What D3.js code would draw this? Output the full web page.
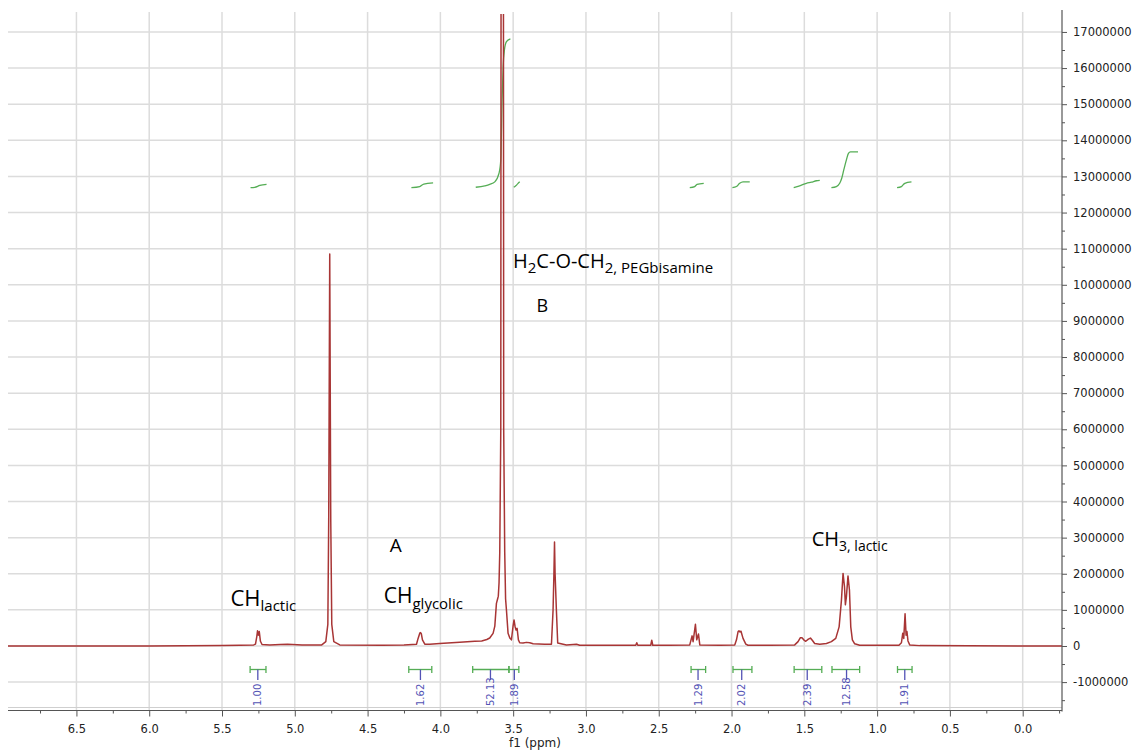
<!DOCTYPE html>
<html><head><meta charset="utf-8">
<script src="https://cdn.jsdelivr.net/npm/d3@7"></script>
<style>html,body{margin:0;padding:0;background:#fff;} svg{display:block;}</style>
</head><body>
<svg id="chart" width="1132" height="751"></svg>
<script>
// ---------- DATA ----------
// 1H NMR spectrum: [chemical shift (ppm), intensity (millions)]
const spectrum = [
[6.97,0.00],[6.00,0.00],[5.50,0.01],[5.378,0.02],[5.282,0.03],[5.270,0.05],[5.261,0.26],[5.256,0.42],[5.250,0.30],[5.244,0.40],[5.236,0.13],[5.225,0.04],[5.172,0.03],[5.10,0.04],[5.05,0.05],[4.95,0.03],
[4.815,0.03],[4.787,0.12],[4.773,0.6],[4.767,3.5],[4.760,10.85],[4.753,3.5],[4.746,0.6],[4.732,0.12],[4.691,0.03],[4.40,0.02],[4.25,0.03],
[4.164,0.05],[4.153,0.21],[4.141,0.36],[4.136,0.37],[4.131,0.34],[4.123,0.17],[4.107,0.05],[4.073,0.05],[4.004,0.07],[3.867,0.10],[3.764,0.13],[3.716,0.14],[3.681,0.18],[3.661,0.22],[3.638,0.35],[3.626,0.55],[3.615,1.18],[3.607,1.30],[3.602,1.38],[3.597,1.75],[3.592,2.6],[3.585,6],[3.580,40],[3.575,60],[3.570,40],[3.565,6],[3.558,2.6],[3.552,1.3],[3.546,0.99],[3.535,0.35],[3.523,0.22],[3.512,0.17],[3.501,0.54],[3.494,0.72],[3.487,0.54],[3.480,0.44],[3.473,0.49],[3.464,0.17],[3.455,0.09],[3.432,0.08],[3.409,0.10],[3.386,0.09],[3.363,0.06],[3.283,0.05],[3.237,0.05],
[3.226,0.99],[3.220,2.0],[3.216,2.88],[3.212,2.0],[3.203,0.99],[3.194,0.08],[3.134,0.03],[3.065,0.05],[3.043,0.02],[2.768,0.02],[2.658,0.02],[2.651,0.09],[2.644,0.02],[2.555,0.02],[2.548,0.16],[2.541,0.02],[2.425,0.02],
[2.287,0.03],[2.271,0.28],[2.264,0.12],[2.248,0.60],[2.239,0.17],[2.227,0.33],[2.218,0.03],[2.081,0.02],
[1.978,0.03],[1.966,0.17],[1.955,0.40],[1.949,0.42],[1.942,0.39],[1.935,0.41],[1.921,0.21],[1.902,0.05],[1.887,0.02],[1.738,0.02],
[1.566,0.03],[1.543,0.12],[1.527,0.23],[1.516,0.23],[1.504,0.17],[1.490,0.13],[1.472,0.19],[1.458,0.22],[1.444,0.15],[1.429,0.07],[1.394,0.05],[1.348,0.07],[1.314,0.12],[1.284,0.21],[1.261,0.53],[1.245,1.27],[1.234,2.01],[1.224,1.64],[1.218,1.14],[1.211,1.36],[1.200,1.94],[1.190,1.55],[1.181,0.53],[1.170,0.17],[1.154,0.06],[1.120,0.02],[1.051,0.02],
[0.850,0.02],[0.833,0.09],[0.824,0.35],[0.817,0.21],[0.808,0.89],[0.801,0.30],[0.795,0.40],[0.788,0.14],[0.776,0.03],[0.707,0.01],[0.00,0.00],[-0.27,0.00]
];

// Integral traces: [ppm, level (millions)]
const integralCurves = [
 [[5.304,12.69],[5.275,12.70],[5.240,12.75],[5.194,12.78]],
 [[4.199,12.69],[4.142,12.72],[4.114,12.79],[4.050,12.82]],
 [[3.757,12.70],[3.695,12.74],[3.661,12.78],[3.626,12.85],[3.597,13.09],[3.585,13.46],[3.576,15.12],[3.569,16.04],[3.560,16.50],[3.546,16.73],[3.519,16.81]],
 [[3.496,12.70],[3.482,12.74],[3.468,12.80],[3.455,12.85]],
 [[2.287,12.69],[2.253,12.72],[2.237,12.78],[2.191,12.81]],
 [[1.994,12.69],[1.966,12.72],[1.944,12.81],[1.921,12.85],[1.875,12.85]],
 [[1.573,12.69],[1.532,12.74],[1.486,12.81],[1.451,12.84],[1.417,12.88],[1.394,12.89]],
 [[1.314,12.69],[1.280,12.72],[1.257,12.81],[1.243,12.95],[1.229,13.18],[1.211,13.46],[1.197,13.64],[1.183,13.68],[1.131,13.68]],
 [[0.863,12.69],[0.833,12.72],[0.810,12.81],[0.764,12.85]]
];

// Integration regions
const integralFrom  = [5.307, 4.217, 3.778, 3.529, 2.278, 1.990, 1.570, 1.310, 0.860];
const integralTo    = [5.198, 4.059, 3.529, 3.461, 2.178, 1.860, 1.380, 1.120, 0.760];
const integralMark  = [5.254, 4.137, 3.656, 3.492, 2.230, 1.930, 1.480, 1.210, 0.810];
const integralValues = ["1.00","1.62","52.13","1.89","1.29","2.02","2.39","12.58","1.91"];

// Axis ticks
const xTicks = [6.5, 6.0, 5.5, 5.0, 4.5, 4.0, 3.5, 3.0, 2.5, 2.0, 1.5, 1.0, 0.5, 0.0];
const xMinorTicks = [6.75, 6.25, 5.75, 5.25, 4.75, 4.25, 3.75, 3.25, 2.75, 2.25, 1.75, 1.25, 0.75, 0.25, -0.25];
const yTicks = [-1000000,0,1000000,2000000,3000000,4000000,5000000,6000000,7000000,8000000,9000000,10000000,11000000,12000000,13000000,14000000,15000000,16000000,17000000];
const yMinorTicks = [-1500000,-500000,500000,1500000,2500000,3500000,4500000,5500000,6500000,7500000,8500000,9500000,10500000,11500000,12500000,13500000,14500000,15500000,16500000];
const xAxisTitle = "f1 (ppm)";

// Peak annotations: anchor in data units [ppm, intensity (millions)], text parts [text, isSubscript]
const annotationAnchors = [[5.442,1.116],[4.389,1.182],[4.348,2.60],[3.501,10.457],[3.340,9.255],[1.449,2.77]];
const annotationParts = [
 [["CH",0],["lactic",1]],
 [["CH",0],["glycolic",1]],
 [["A",0]],
 [["H",0],["2",1],["C-O-CH",0],["2, PEGbisamine",1]],
 [["B",0]],
 [["CH",0],["3, lactic",1]]
];

// ---------- STYLE / LAYOUT ----------
const W = 1132, H = 751;
const plot = {left: 8, right: 1062, top: 14, bottom: 710.5};
const annFont = [22, 21, 19, 20, 18, 20];
const annSubFont = [15, 15, 15, 15, 15, 14];
const annSubShift = [5, 6, 5, 5, 5, 5];
const specColor = "#a83535", intColor = "#55ad55", blueColor = "#5353b5";
const gridColor = "#dcdcdc", axisColor = "#555";
const axisFont = "'DejaVu Sans', Verdana, sans-serif";

const svg = d3.select("#chart");
svg.append("rect").attr("width", W).attr("height", H).attr("fill", "#fff");

const x = d3.scaleLinear().domain([6.97, -0.27]).range([plot.left, plot.right]);
const y = d3.scaleLinear().domain([-1800000, 17497000]).range([711, 14]);

svg.append("defs").append("clipPath").attr("id", "clip")
  .append("rect").attr("x", plot.left).attr("y", plot.top)
  .attr("width", plot.right - plot.left).attr("height", plot.bottom - plot.top);

// grid
const grid = svg.append("g");
grid.selectAll("line.h").data(yTicks).join("line")
  .attr("x1", plot.left).attr("x2", plot.right)
  .attr("y1", d => y(d)).attr("y2", d => y(d))
  .attr("stroke", gridColor).attr("stroke-width", 1.5);
grid.selectAll("line.v").data(xTicks).join("line")
  .attr("x1", d => x(d)).attr("x2", d => x(d))
  .attr("y1", plot.top - 2).attr("y2", plot.bottom)
  .attr("stroke", gridColor).attr("stroke-width", 1.5);
// frame bottom light line
svg.append("line").attr("x1", plot.left).attr("x2", plot.right)
  .attr("y1", 707.5).attr("y2", 707.5).attr("stroke", "#cfcfcf").attr("stroke-width", 1);

// integration brackets
const brY = 669.5;
const br = svg.append("g");
integralValues.forEach((v, i) => {
  const x1 = x(integralFrom[i]), x2 = x(integralTo[i]), xm = x(integralMark[i]);
  br.append("line").attr("x1", x1).attr("x2", x2).attr("y1", brY).attr("y2", brY)
    .attr("stroke", intColor).attr("stroke-width", 1.3);
  [x1, x2].forEach(xx => br.append("line").attr("x1", xx).attr("x2", xx)
    .attr("y1", brY - 3.5).attr("y2", brY + 3.5).attr("stroke", intColor).attr("stroke-width", 1.3));
  br.append("line").attr("x1", xm).attr("x2", xm).attr("y1", brY).attr("y2", brY + 10.5)
    .attr("stroke", blueColor).attr("stroke-width", 1.3);
  br.append("text").text(v)
    .attr("transform", `translate(${xm},706) rotate(-90)`)
    .attr("text-anchor", "start").attr("dy", "0.36em")
    .style("font-family", axisFont).style("font-size", "10px").attr("fill", blueColor);
});

// integral curves
const intLine = d3.line().x(d => x(d[0])).y(d => y(d[1] * 1e6)).curve(d3.curveMonotoneX);
svg.append("g").selectAll("path").data(integralCurves.map(c => c.slice().sort((a, b) => a[0] - b[0])))
  .join("path").attr("d", intLine).attr("fill", "none")
  .attr("stroke", intColor).attr("stroke-width", 1.3);

// spectrum
const specLine = d3.line().x(d => x(d[0])).y(d => y(d[1] * 1e6));
svg.append("g").attr("clip-path", "url(#clip)")
  .append("path").datum(spectrum).attr("d", specLine)
  .attr("fill", "none").attr("stroke", specColor).attr("stroke-width", 1.5)
  .attr("stroke-linejoin", "round");

// axes
const xAxis = svg.append("g").attr("transform", `translate(0,${plot.bottom})`)
  .call(d3.axisBottom(x).tickValues(xTicks).tickFormat(d => d.toFixed(1)).tickSize(6).tickPadding(8).tickSizeOuter(0));
svg.append("g").attr("transform", `translate(0,${plot.bottom})`)
  .call(d3.axisBottom(x).tickValues(xMinorTicks).tickFormat("").tickSize(3).tickSizeOuter(0))
  .select(".domain").remove();
const yAxis = svg.append("g").attr("transform", `translate(${plot.right},0)`)
  .call(d3.axisRight(y).tickValues(yTicks).tickFormat(d => String(d)).tickSize(5).tickPadding(6).tickSizeOuter(0));
svg.append("g").attr("transform", `translate(${plot.right},0)`)
  .call(d3.axisRight(y).tickValues(yMinorTicks).tickFormat("").tickSize(3).tickSizeOuter(0))
  .select(".domain").remove();
svg.selectAll(".domain").attr("stroke", axisColor).attr("stroke-width", 1.2);
svg.selectAll(".tick line").attr("stroke", axisColor);
svg.selectAll(".tick text").style("font-family", axisFont).style("font-size", "11.5px").attr("fill", "#222");
// extend y-axis line to top
yAxis.select(".domain").attr("d", `M0,${plot.top - 4}V${plot.bottom + 1}`);
xAxis.select(".domain").attr("d", `M${plot.left},0H${plot.right}`);

svg.append("text").text(xAxisTitle)
  .attr("x", (plot.left + plot.right) / 2).attr("y", 747)
  .attr("text-anchor", "middle").style("font-family", axisFont).style("font-size", "12px").attr("fill", "#222");

// annotations
annotationAnchors.forEach((a, i) => {
  const t = svg.append("text").attr("x", x(a[0])).attr("y", y(a[1] * 1e6))
    .style("font-family", "'Open Sans', 'Liberation Sans', sans-serif").attr("fill", "#000");
  let isSub = false;
  annotationParts[i].forEach(([s, sub]) => {
    const ts = t.append("tspan").text(s).style("font-size", (sub ? annSubFont[i] : annFont[i]) + "px");
    if (sub && !isSub) ts.attr("dy", annSubShift[i]);
    if (!sub && isSub) ts.attr("dy", -annSubShift[i]);
    isSub = !!sub;
  });
});
</script>
</body></html>
